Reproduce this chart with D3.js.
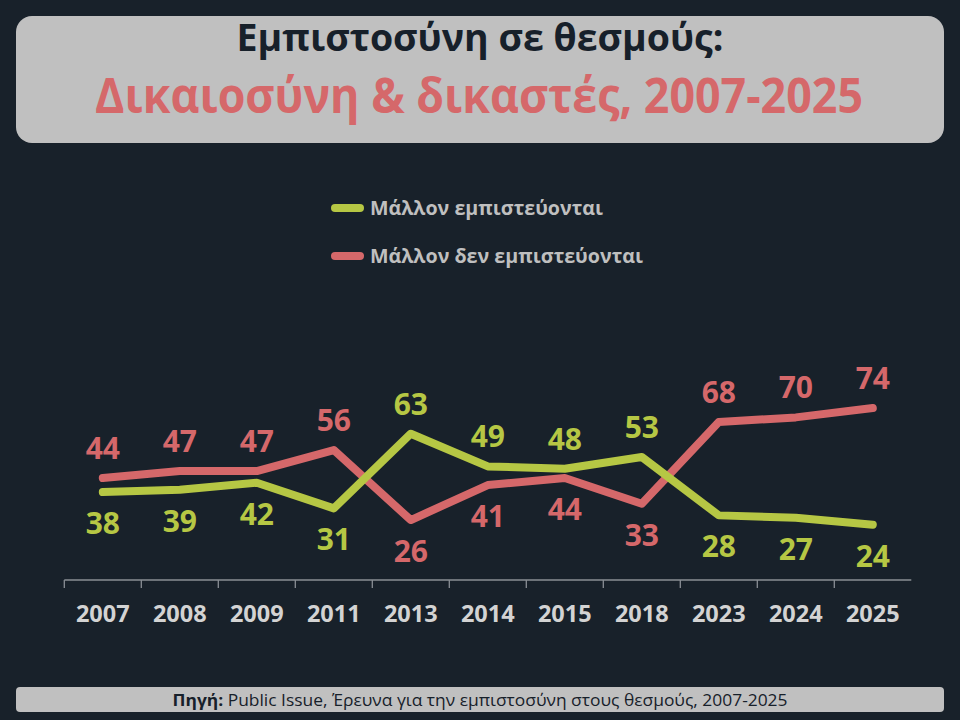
<!DOCTYPE html>
<html><head><meta charset="utf-8">
<script src="https://cdn.jsdelivr.net/npm/d3@7"></script>
<style>html,body{margin:0;padding:0;background:#18212a;}svg{display:block;}</style>
</head><body>
<script>
const years = ["2007","2008","2009","2011","2013","2014","2015","2018","2023","2024","2025"];
const trust = [38,39,42,31,63,49,48,53,28,27,24];
const distrust = [44,47,47,56,26,41,44,33,68,70,74];
const seriesNames = ["Μάλλον εμπιστεύονται","Μάλλον δεν εμπιστεύονται"];
const titleLine1 = "Εμπιστοσύνη σε θεσμούς:";
const titleLine2 = "Δικαιοσύνη & δικαστές, 2007-2025";
const sourceBold = "Πηγή:";
const sourceText = " Public Issue, Έρευνα για την εμπιστοσύνη στους θεσμούς, 2007-2025";

const W=960,H=720;
const green="#b6c744", red="#d5686a", bg="#18212a", box="#c0c0c0";
const font="'Open Sans', 'Noto Sans', sans-serif";
const svg=d3.select("body").append("svg").attr("width",W).attr("height",H);
svg.append("rect").attr("width",W).attr("height",H).attr("fill",bg);

// Title box
svg.append("rect").attr("x",16).attr("y",16).attr("width",928).attr("height",127).attr("rx",16).attr("fill",box);
svg.append("text").attr("x",480).attr("y",51).attr("text-anchor","middle")
  .attr("font-family",font).attr("font-weight",700).attr("font-size",38).attr("fill","#17202a")
  .attr("textLength",487).attr("lengthAdjust","spacingAndGlyphs").text(titleLine1);
svg.append("text").attr("x",479).attr("y",113).attr("text-anchor","middle")
  .attr("font-family",font).attr("font-weight",700).attr("font-size",49).attr("fill",red)
  .attr("textLength",768).attr("lengthAdjust","spacingAndGlyphs").text(titleLine2);

// Legend
const legend=[{name:seriesNames[0],color:green,y:208,w:233},{name:seriesNames[1],color:red,y:256,w:273}];
legend.forEach(l=>{
  svg.append("line").attr("x1",335).attr("x2",360).attr("y1",l.y).attr("y2",l.y)
    .attr("stroke",l.color).attr("stroke-width",8).attr("stroke-linecap","round");
  svg.append("text").attr("x",370).attr("y",l.y+7).attr("font-family",font).attr("font-weight",700)
    .attr("font-size",20).attr("fill","#bfbfbf").attr("textLength",l.w).attr("lengthAdjust","spacingAndGlyphs").text(l.name);
});

// Scales
const x=d3.scaleBand().domain(years).range([64.3,911.3]).padding(0);
const y=d3.scaleLinear().domain([0,100]).range([580.7,347.4]);

// Axis
const axisG=svg.append("g").attr("transform","translate(0,580)");
axisG.append("line").attr("x1",x.range()[0]).attr("x2",x.range()[1]).attr("stroke","#8a8f95").attr("stroke-width",1.3);
axisG.selectAll("line.tick").data(years).enter().append("line")
  .attr("x1",d=>x(d)).attr("x2",d=>x(d)).attr("y1",0).attr("y2",8).attr("stroke","#8a8f95").attr("stroke-width",1.3);
axisG.selectAll("text").data(years).enter().append("text")
  .attr("x",d=>x(d)+x.bandwidth()/2).attr("y",42).attr("text-anchor","middle")
  .attr("font-family",font).attr("font-weight",700).attr("font-size",23.5).attr("fill","#d3d3d3").text(d=>d);

const cx=d=>x(d)+x.bandwidth()/2;
const line=d3.line().x(d=>cx(d.year)).y(d=>y(d.v));
const series=[{vals:distrust,color:red,other:trust},{vals:trust,color:green,other:distrust}];
series.forEach(s=>{
  const data=years.map((yr,i)=>({year:yr,v:s.vals[i]}));
  svg.append("path").datum(data).attr("d",line).attr("fill","none").attr("stroke",s.color)
    .attr("stroke-width",8).attr("stroke-linecap","round").attr("stroke-linejoin","round");
});
series.forEach(s=>{
  years.forEach((yr,i)=>{
    const v=s.vals[i], above=v>s.other[i];
    svg.append("text").attr("x",cx(yr)).attr("y",y(v)+(above?-19:42))
      .attr("text-anchor","middle").attr("font-family",font).attr("font-weight",700)
      .attr("font-size",30).attr("fill",s.color).text(v);
  });
});

// Source
svg.append("rect").attr("x",16).attr("y",687).attr("width",928).attr("height",25).attr("rx",4).attr("fill",box);
const src=svg.append("text").attr("x",480).attr("y",706).attr("text-anchor","middle")
  .attr("font-family","'Liberation Sans Narrow','Open Sans',sans-serif").attr("font-size",16).attr("fill","#17202a")
  .attr("textLength",615).attr("lengthAdjust","spacingAndGlyphs");
src.append("tspan").attr("font-weight",700).text(sourceBold);
src.append("tspan").text(sourceText);
</script>
</body></html>
